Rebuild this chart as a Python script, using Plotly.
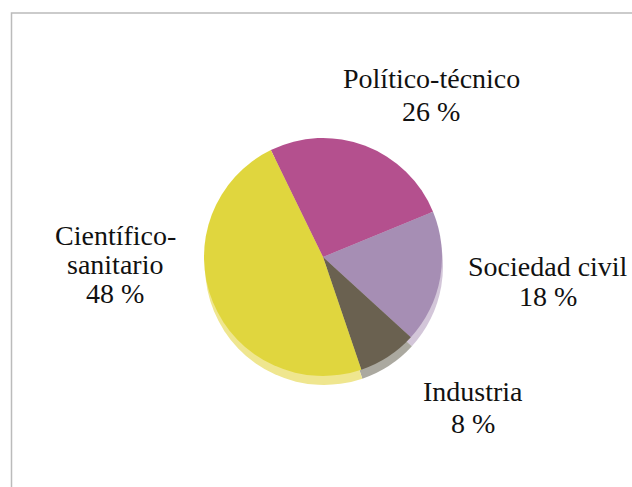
import plotly.graph_objects as go

# ---- data ----
labels = ["Político-técnico", "Sociedad civil", "Industria", "Científico-<br>sanitario"]
values = [26, 18, 8, 48]
colors = ["#B4508E", "#A68EB4", "#6A6150", "#E0D63E"]
shadow_colors = ["#D9A6C6", "#D3C6D9", "#ABA9A0", "#EFE68F"]
# label block placement (pixels: centre x, list of line middle y)
label_pos = [
    (431, [78, 112]),
    (548, [266, 296]),
    (473, [391, 423]),
    (115, [235, 264, 293]),
]

W, H = 632, 487
cx, cy, r = 323, 257, 119
sdx, sdy = 1, 9


def dom(x, y, rad):
    return dict(x=[(x - rad) / W, (x + rad) / W],
                y=[(H - y - rad) / H, (H - y + rad) / H])


fig = go.Figure()
fig.add_trace(go.Pie(
    labels=labels, values=values, sort=False, direction="clockwise",
    rotation=-26, marker=dict(colors=shadow_colors, line=dict(width=0)),
    textinfo="none", hoverinfo="skip", showlegend=False,
    domain=dom(cx + sdx, cy + sdy, r)))
fig.add_trace(go.Pie(
    labels=labels, values=values, sort=False, direction="clockwise",
    rotation=-26, marker=dict(colors=colors, line=dict(width=0)),
    textinfo="none", hoverinfo="label+percent", showlegend=False,
    domain=dom(cx, cy, r)))

font = dict(family="Liberation Serif", size=28, color="#111111")
for lab, val, (x, ys) in zip(labels, values, label_pos):
    lines = lab.split("<br>") + [f"{val} %"]
    for line, y in zip(lines, ys):
        fig.add_annotation(text=line, x=x / W, y=1 - y / H, xref="paper", yref="paper",
                           xanchor="center", yanchor="middle", showarrow=False, font=font)

# frame
fig.add_shape(type="rect", xref="paper", yref="paper",
              x0=11.5 / W, x1=1.2, y0=-0.2, y1=1 - 13 / H,
              line=dict(color="#BBBBBB", width=1.5))

fig.update_layout(width=W, height=H, margin=dict(l=0, r=0, t=0, b=0),
                  paper_bgcolor="white", plot_bgcolor="white")
fig.write_html("out.html", config={"displayModeBar": False},
               post_script="document.body.style.margin='0';document.body.style.overflow='hidden';")
